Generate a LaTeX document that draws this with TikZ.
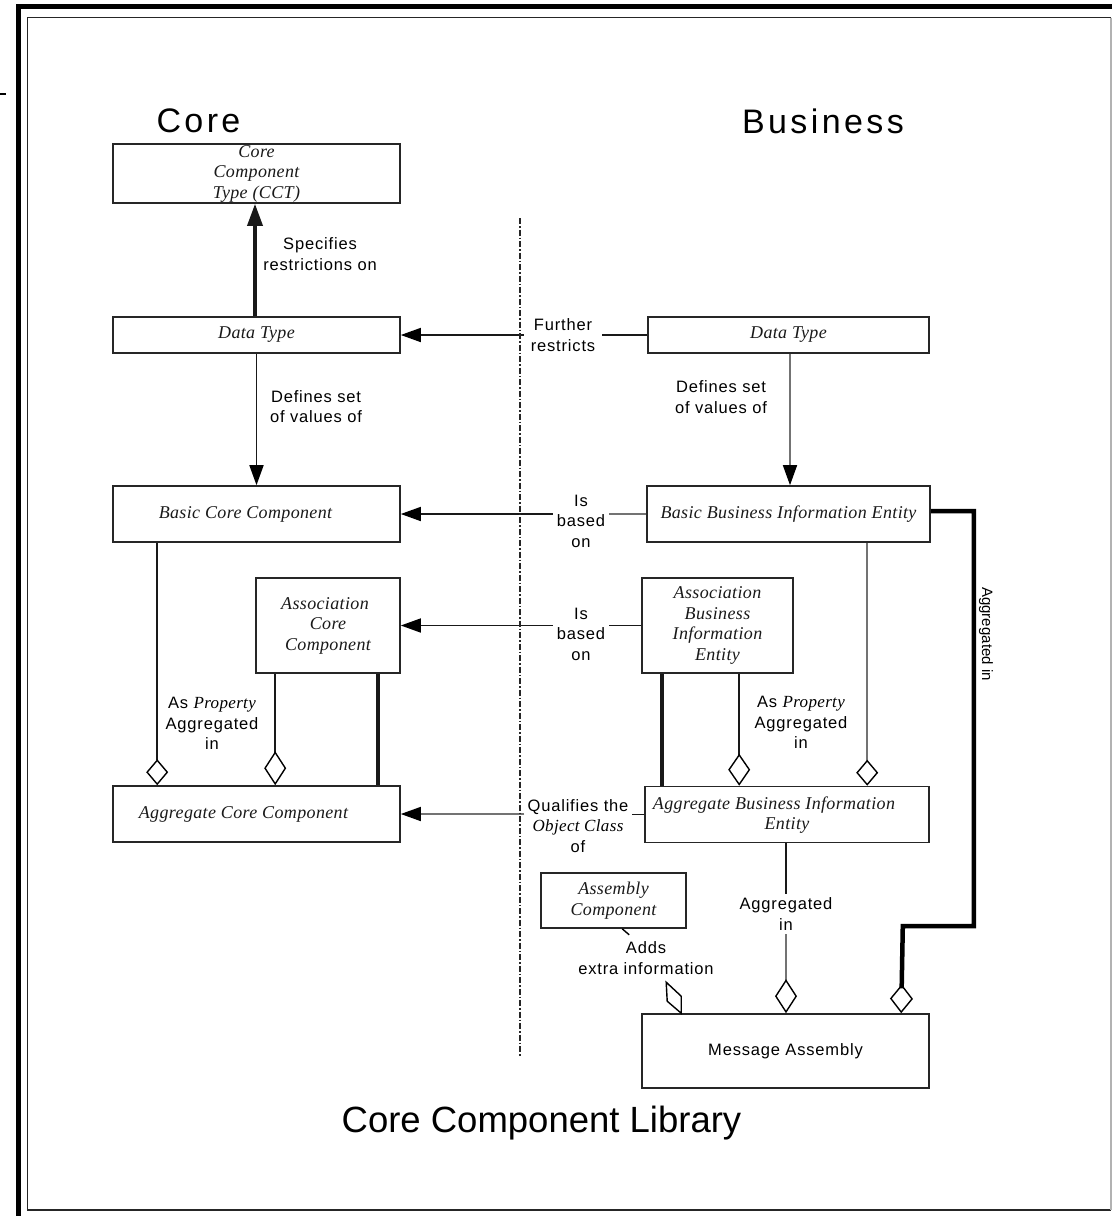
\documentclass[tikz,border=0pt]{standalone}
\usepackage{fontspec}
\setmainfont{Liberation Serif}
\newfontfamily\lblfamily{Liberation Sans}[LetterSpace=5.0]
\newfontfamily\ttlfamily{Liberation Sans}[LetterSpace=10.0]
\newfontfamily\capfamily{Liberation Sans}
\newfontfamily\boxitfamily{Liberation Serif}[LetterSpace=2.0]
\usetikzlibrary{arrows.meta}
\newcommand\boxtext{\boxitfamily\itshape\fontsize{18}{20.5}\selectfont}
\newcommand\lbltext{\lblfamily\fontsize{16.5}{20.5}\selectfont}
\newcommand\lblit{\boxitfamily\itshape\fontsize{17}{20.5}\selectfont}
\begin{document}
\begin{tikzpicture}[x=1pt,y=-1pt,
  box/.style={draw=black!85, line width=1.6pt, inner sep=0pt, align=center,
    font=\boxtext, text=black!90},
  lbl/.style={font=\lbltext, align=center, inner xsep=5pt, inner ysep=3pt},
  title/.style={font=\ttlfamily\fontsize{34}{40}\selectfont, anchor=base},
  link/.style={line width=1.6pt, black!90},
  faint/.style={line width=1.6pt, black!55},
  heavy/.style={line width=3.5pt},
  tri/.style={-{Triangle[length=20pt,width=14pt,color=black]}},
  dia/.style={-{Diamond[open,length=#1,width=22pt,line width=1.4pt,color=black]}},
  dia/.default=26pt]
\useasboundingbox (0,0) rectangle (1112,1216);

% page frame
\draw[line width=5pt, line join=miter] (1112,6.5) -- (18,6.5) -- (18,1216);
\draw[line width=1.8pt, black!85] (1111,17.5) -- (27.5,17.5) -- (27.5,1210) -- (1111,1210);
\draw[line width=1.2pt, black!30] (1111,17.5) -- (1111,1210);
\draw[line width=1.5pt] (0,94) -- (6,94);

% column titles
\node[title] (tcore) at (198.5,132) {Core};
\node[title] (tbus) at (823,133) {Business};
\node[anchor=base, font=\capfamily\fontsize{36.5}{40}\selectfont] (tlib) at (541.5,1132) {Core Component Library};

% core side
\node[box, minimum width=287pt, minimum height=59pt] (cct) at (256.5,173.5) {Core\\Component\\Type (CCT)};
\node[box, minimum width=287pt, minimum height=36pt] (ldt) at (256.5,335) {Data Type};
\node[box, minimum width=287pt, minimum height=56pt,
  label={[name=bcct, font=\boxtext, text=black!90, xshift=-11pt]center:Basic Core Component}] (bcc) at (256.5,514) {};
\node[box, minimum width=144pt, minimum height=95pt] (acc) at (328,625.5) {\hspace*{-6pt}Association\\Core\\Component};
\node[box, minimum width=287pt, minimum height=56pt,
  label={[name=agct, font=\boxtext, text=black!90, xshift=-13pt]center:Aggregate Core Component}] (agc) at (256.5,814) {};

% business side
\node[box, minimum width=281pt, minimum height=36pt] (rdt) at (788.5,335) {Data Type};
\node[box, minimum width=283pt, minimum height=56pt] (bbie) at (788.5,514) {Basic Business Information Entity};
\node[box, minimum width=151pt, minimum height=95pt] (abie) at (717.5,625.5) {Association\\Business\\Information\\Entity};
\node[box, minimum width=284pt, minimum height=56pt,
  label={[name=agbt, font=\boxtext, text=black!90, align=center, xshift=-13pt, yshift=-0.5pt]center:Aggregate Business Information\\\hspace*{26pt}Entity}] (agb) at (787,814.5) {};
\node[box, minimum width=145pt, minimum height=55pt] (asm) at (613.5,900.5) {Assembly\\Component};
\node[box, minimum width=287pt, minimum height=74pt, font=\lbltext, text=black] (ma) at (785.5,1051) {Message Assembly};

% connector labels
\node[lbl] (sr) at (320,254) {Specifies\\restrictions on};
\node[lbl] (dl) at (316,406.5) {Defines set\\of values of};
\node[lbl, inner xsep=7pt] (fr) at (563,335) {Further\\restricts};
\node[lbl] (dr) at (721,397) {Defines set\\of values of};
\node[lbl, inner xsep=4pt] (ib1) at (581,521) {Is\\based\\on};
\node[lbl, inner xsep=4pt] (ib2) at (581,634) {Is\\based\\on};
\node[lbl, inner xsep=3pt] (qo) at (578,826) {Qualifies the\\{\lblit Object Class}\\of};
\node[lbl] (apl) at (212,723.5) {As {\lblit Property}\\Aggregated\\in};
\node[lbl] (apr) at (801,722.5) {As {\lblit Property}\\Aggregated\\in};
\node[lbl, inner ysep=4pt] (ai) at (786,914) {Aggregated\\in};
\node[lbl, inner ysep=2pt] (aex) at (646,958) {Adds\\extra information};
\node[font=\capfamily\fontsize{15}{17}\selectfont, rotate=-90] (rai) at (986,634) {Aggregated in};

% vertical relations on the core side
\draw[link, heavy, -{Triangle[length=22pt,width=15pt]}] ([xshift=-1.5pt]ldt.north) -- ([xshift=-1.5pt]cct.south);
\draw[link, tri] (ldt.south) -- (bcc.north);
\draw[link, dia] ([xshift=45pt]bcc.south west) -- ([xshift=45pt]agc.north west);
\draw[link, dia=34pt] ([xshift=20pt]acc.south west) -- ([xshift=163pt]agc.north west);
\draw[link, heavy] ([xshift=123pt]acc.south west) -- ([xshift=266pt]agc.north west);

% relations across the divide
\draw[link] (rdt.west) -- (fr.east |- rdt.west);
\draw[link, tri] (fr.west |- ldt.east) -- (ldt.east);
\draw[faint] (bbie.west) -- (ib1.east |- bbie.west);
\draw[link, tri] (ib1.west |- bcc.east) -- (bcc.east);
\draw[link] (abie.west) -- (ib2.east |- abie.west);
\draw[link, tri] (ib2.west |- acc.east) -- (acc.east);
\draw[link] (agb.west) -- (qo.east |- agb.west);
\draw[faint, tri] (qo.west |- agc.east) -- (agc.east);

% vertical relations on the business side
\draw[faint, tri] ([xshift=1.5pt]rdt.south) -- ([xshift=1.5pt]bbie.north);
\draw[link, heavy] ([xshift=21pt]abie.south west) -- ([xshift=18pt]agb.north west);
\draw[link, dia=32pt] ([xshift=98pt]abie.south west) -- ([xshift=95pt]agb.north west);
\draw[faint, dia] ([xshift=221pt]bbie.south west) -- ([xshift=223pt]agb.north west);
\draw[link] ([xshift=-1pt]agb.south) -- (ai.north);
\draw[faint, dia=34pt] (ai.south) -- ([xshift=0.5pt]ma.north);
\draw[line width=4.5pt, line join=miter, -{Diamond[open,length=29pt,width=23pt,line width=1.4pt]}]
  ([yshift=3pt]bbie.east) -- ++(43,0) -- ++(0,415) -- ++(-71,0) -- ([xshift=260pt]ma.north west);

% assembly component
\draw[line width=1.4pt] ([xshift=82pt]asm.south west) -- ++(7,6);
\draw[line width=1.4pt, line join=miter] ([xshift=40pt]ma.north west) -- ++(0,-17) -- ++(-15,-14) -- ++(1,19) -- cycle;

% core / business divide
\draw[line width=1.3pt, black!85, dash pattern=on 6pt off 2pt on 1.5pt off 2pt] (520,218) -- (520,1056);
\end{tikzpicture}
\end{document}
